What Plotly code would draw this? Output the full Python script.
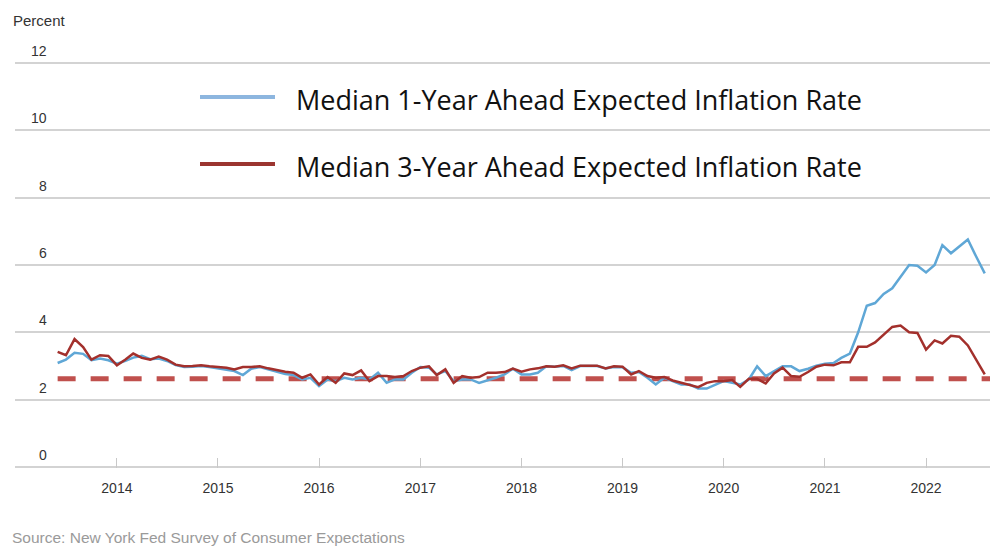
import plotly.graph_objects as go
import pandas as pd

# ---------------- data ----------------
months = pd.date_range("2013-06-01", "2022-08-01", freq="MS")

one_year = [
    3.09, 3.19, 3.39, 3.36, 3.17, 3.22, 3.17,
    3.07, 3.15, 3.25, 3.30, 3.20, 3.22, 3.15, 3.03, 2.97, 2.98, 3.00, 2.97,
    2.93, 2.90, 2.85, 2.73, 2.92, 2.97, 2.90, 2.85, 2.76, 2.73, 2.60, 2.65,
    2.40, 2.60, 2.55, 2.65, 2.60, 2.65, 2.60, 2.80, 2.50, 2.60, 2.60, 2.80,
    2.97, 2.95, 2.75, 2.85, 2.55, 2.60, 2.60, 2.50, 2.57, 2.65, 2.75, 2.92,
    2.75, 2.75, 2.80, 2.99, 2.98, 3.00, 2.88, 3.00, 3.00, 3.00, 2.93, 2.97,
    2.96, 2.80, 2.82, 2.65, 2.45, 2.65, 2.55, 2.45, 2.45, 2.33, 2.33, 2.45,
    2.55, 2.50, 2.45, 2.60, 2.99, 2.70, 2.85, 2.99, 2.99, 2.85, 2.92, 3.01,
    3.07, 3.09, 3.24, 3.37, 4.00, 4.79, 4.87, 5.14, 5.31, 5.65, 6.00, 5.98,
    5.78, 6.00, 6.59, 6.35, 6.56, 6.76, 6.25, 5.75,
]

three_year = [
    3.42, 3.32, 3.80, 3.56, 3.19, 3.32, 3.30,
    3.02, 3.19, 3.37, 3.24, 3.19, 3.28, 3.19, 3.04, 2.99, 3.00, 3.02, 2.99,
    2.96, 2.95, 2.90, 2.97, 2.97, 2.99, 2.93, 2.87, 2.83, 2.80, 2.65, 2.75,
    2.45, 2.67, 2.50, 2.78, 2.73, 2.87, 2.55, 2.70, 2.70, 2.67, 2.70, 2.85,
    2.95, 2.99, 2.73, 2.90, 2.50, 2.70, 2.65, 2.67, 2.80, 2.80, 2.82, 2.92,
    2.83, 2.90, 2.93, 2.99, 2.98, 3.02, 2.93, 3.01, 3.01, 3.01, 2.93, 2.99,
    2.98, 2.75, 2.85, 2.70, 2.65, 2.67, 2.57, 2.50, 2.45, 2.37, 2.50, 2.55,
    2.55, 2.58, 2.38, 2.62, 2.62, 2.48, 2.78, 2.95, 2.70, 2.68, 2.82, 2.98,
    3.04, 3.02, 3.11, 3.11, 3.57, 3.57, 3.70, 3.93, 4.16, 4.20, 4.00, 3.98,
    3.49, 3.76, 3.67, 3.90, 3.87, 3.61, 3.20, 2.75,
]

reference_level = 2.62

series_names = [
    "Median 1-Year Ahead Expected Inflation Rate",
    "Median 3-Year Ahead Expected Inflation Rate",
]

y_ticks = [0, 2, 4, 6, 8, 10, 12]
y_tick_labels = ["0", "2", "4", "6", "8", "10", "12"]
x_ticks = ["2014-01-01", "2015-01-01", "2016-01-01", "2017-01-01", "2018-01-01",
           "2019-01-01", "2020-01-01", "2021-01-01", "2022-01-01"]
x_tick_labels = ["2014", "2015", "2016", "2017", "2018", "2019", "2020", "2021", "2022"]

# ---------------- styles ----------------
BLUE = "#5fa7d6"
RED = "#a3302c"
DASH_RED = "#c0504d"
LEG_BLUE = "#8db6df"
LEG_RED = "#9b3530"
GRID = "#d3d3d3"
FONT = "Liberation Sans, Arial, sans-serif"

fig = go.Figure()

fig.add_trace(go.Scatter(
    x=[months[0], months[-1] + pd.DateOffset(days=60)],
    y=[reference_level, reference_level],
    mode="lines", line=dict(color=DASH_RED, width=5, dash="18px,15px"),
    showlegend=False, hoverinfo="skip",
))
fig.add_trace(go.Scatter(
    x=months, y=one_year, mode="lines", name=series_names[0],
    line=dict(color=BLUE, width=2.5), showlegend=False,
))
fig.add_trace(go.Scatter(
    x=months, y=three_year, mode="lines", name=series_names[1],
    line=dict(color=RED, width=2.5), showlegend=False,
))

L, R, T, B = 15, 0, 62, 80
W, H = 990, 548

fig.update_layout(
    width=W, height=H,
    margin=dict(l=L, r=R, t=T, b=B),
    paper_bgcolor="white", plot_bgcolor="white",
    font=dict(family=FONT, color="#333"),
    showlegend=False,
)

fig.update_xaxes(
    type="date",
    range=["2012-12-29", "2022-08-20"],
    tickvals=x_ticks, ticktext=x_tick_labels,
    ticks="inside", ticklen=10, tickcolor="#c8c8c8", tickwidth=1,
    showgrid=False, zeroline=False, showline=False,
    tickfont=dict(size=14, color="#333", family=FONT),
    ticklabelstandoff=10,
)
fig.update_yaxes(
    range=[-0.03, 12.03],
    tickvals=y_ticks,
    showticklabels=False,
    showgrid=True, gridcolor=GRID, gridwidth=2,
    zeroline=False, showline=False,
)

pw = W - L - R
ph = H - T - B

def px_to_paper_x(px):
    return (px - L) / pw

def py_to_paper_y(py):
    return (H - B - py) / ph

annotations = []
for v, lab in zip(y_ticks, y_tick_labels):
    annotations.append(dict(
        x=px_to_paper_x(49), xref="paper", y=v, yref="y",
        text=lab, showarrow=False, xanchor="right", yanchor="middle",
        yshift=12, font=dict(size=14, color="#333", family=FONT),
    ))

annotations.append(dict(
    x=px_to_paper_x(11), xref="paper", y=py_to_paper_y(20), yref="paper",
    text="Percent", showarrow=False, xanchor="left", yanchor="middle",
    font=dict(size=15, color="#333", family=FONT),
))
annotations.append(dict(
    x=px_to_paper_x(10), xref="paper", y=py_to_paper_y(537), yref="paper",
    text="Source: New York Fed Survey of Consumer Expectations",
    showarrow=False, xanchor="left", yanchor="middle",
    font=dict(size=15.5, color="#9a9a9a", family=FONT),
))

shapes = []
for name, col, py in [(series_names[0], LEG_BLUE, 97), (series_names[1], LEG_RED, 164)]:
    shapes.append(dict(
        type="line", xref="paper", yref="paper",
        x0=px_to_paper_x(200), x1=px_to_paper_x(275),
        y0=py_to_paper_y(py), y1=py_to_paper_y(py),
        line=dict(color=col, width=4),
    ))
    annotations.append(dict(
        x=px_to_paper_x(294), xref="paper", y=py_to_paper_y(py + 2), yref="paper",
        text=name, showarrow=False, xanchor="left", yanchor="middle",
        font=dict(size=27, color="#111", family="Open Sans, sans-serif"),
    ))

fig.update_layout(annotations=annotations, shapes=shapes)

fig.write_html("out.html")
